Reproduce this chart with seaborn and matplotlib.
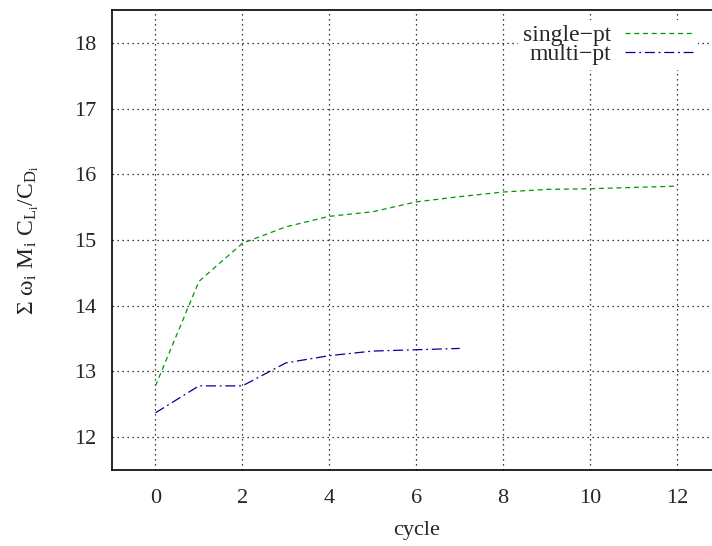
import pandas as pd
import numpy as np
import matplotlib
matplotlib.use("Agg")
import matplotlib.pyplot as plt
import seaborn as sns
from matplotlib.ticker import MultipleLocator

# --- datos ---
ciclos_single = [0, 1, 2, 3, 4, 5, 6, 7, 8, 9, 10, 11, 12]
valores_single = [12.78, 14.37, 14.95, 15.20, 15.36, 15.43, 15.58, 15.66, 15.73, 15.77, 15.78, 15.80, 15.82]
ciclos_multi = [0, 1, 2, 3, 4, 5, 6, 7]
valores_multi = [12.37, 12.78, 12.78, 13.13, 13.24, 13.31, 13.33, 13.35]
etiquetas = ["single\u2212pt", "multi\u2212pt"]
colores = ["#009a00", "#00009a"]

sns.set_style("white")
plt.rcParams['font.family'] = ['Liberation Serif', 'DejaVu Serif']
plt.rcParams['mathtext.fontset'] = 'custom'
plt.rcParams['mathtext.rm'] = 'Liberation Serif'
plt.rcParams['mathtext.it'] = 'Liberation Serif'
plt.rcParams['mathtext.default'] = 'rm'

df = pd.concat([
    pd.DataFrame({'cycle': ciclos_single, 'valor': valores_single, 'serie': etiquetas[0]}),
    pd.DataFrame({'cycle': ciclos_multi, 'valor': valores_multi, 'serie': etiquetas[1]}),
], ignore_index=True)

fig = plt.figure(figsize=(7.12, 5.46), dpi=100)
ax = fig.add_axes([112 / 712, 76 / 546, 608.5 / 712, 460 / 546])

sns.lineplot(data=df, x='cycle', y='valor', hue='serie', hue_order=etiquetas,
             palette=dict(zip(etiquetas, colores)), linewidth=0.9, legend=False, ax=ax)

# estilos de linea tipo gnuplot
ax.lines[0].set_dashes([4, 3])
ax.lines[1].set_dashes([8, 3, 1.5, 3])

ax.set_xlim(-1, 13)
ax.set_ylim(11.5, 18.5)
ax.xaxis.set_major_locator(MultipleLocator(2))
ax.xaxis.set_minor_locator(MultipleLocator(1))
ax.yaxis.set_major_locator(MultipleLocator(1))
ax.yaxis.set_minor_locator(MultipleLocator(0.1))

ax.tick_params(axis='both', which='major', direction='in', length=8, width=1,
               labelsize=16, color='black')
ax.tick_params(axis='x', which='major', pad=14)
ax.tick_params(axis='y', which='major', pad=11)
ax.tick_params(axis='both', which='minor', direction='in', length=4, width=1, color='black')
ax.tick_params(top=False, right=False, which='both')

ax.grid(True, which='major', color='black', linestyle=(0, (1, 3)), linewidth=0.9)
for s in ax.spines.values():
    s.set_linewidth(1.2)
    s.set_color('black')
ax.spines['right'].set_visible(False)

ax.set_xlabel("cycle", fontsize=16, labelpad=9)
ax.set_ylabel(r"$\Sigma\ \omega_i\ M_i\ C_{L_i}/C_{D_i}$", fontsize=17, labelpad=24)

handles = ax.lines[:2]
leg = ax.legend(handles, etiquetas, loc='upper right', bbox_to_anchor=(710 / 712, 1 - 8 / 546),
                bbox_transform=fig.transFigure, markerfirst=False, fontsize=17,
                handlelength=2.9, handletextpad=0.6, labelspacing=-0.1,
                frameon=True, fancybox=False, borderpad=0.2)
leg.get_frame().set_edgecolor('none')
leg.get_frame().set_facecolor('white')
leg.get_frame().set_alpha(1)

fig.savefig("out.png", dpi=100)
